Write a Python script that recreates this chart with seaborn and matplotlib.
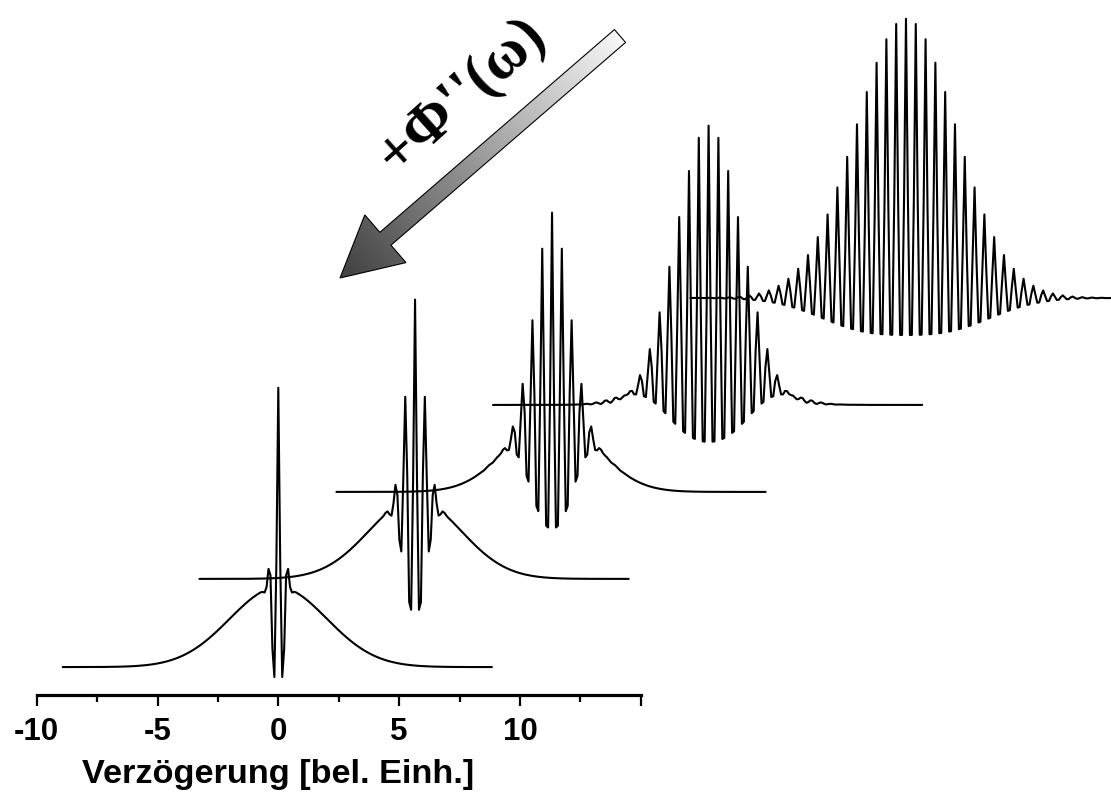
import numpy as np
import pandas as pd
import matplotlib
matplotlib.use("Agg")
import matplotlib.pyplot as plt
from matplotlib.patches import Polygon
import seaborn as sns

# Interferometric autocorrelation traces of Gaussian pulses with increasing chirp.
# Position of each trace centre on the delay axis and the shift of its zero level.
trace_center = [0.0, 5.66, 11.33, 17.81, 25.98]
trace_offset = [-0.30, 1.91, 4.09, 6.27, 8.95]
# Gaussian pulse width (in fringe periods) and linear chirp parameter of each trace
pulse_width = [7.0, 6.6, 6.1, 5.8, 6.7]
chirp = [20.0, 9.0, 4.0, 1.5, 0.0]
fringe_period = 0.4056
samples_per_fringe = 5
delay_range = [-9.0, 8.85]

tick_major = [-10, -5, 0, 5, 10, 15]
tick_labels = ["-10", "-5", "0", "5", "10", ""]
tick_minor = [-7.5, -2.5, 2.5, 7.5, 12.5]
x_label = "Verzögerung [bel. Einh.]"
arrow_label = "+\u03A6''(\u03C9)"


def autocorrelation(n, s, a):
    """Normalised interferometric autocorrelation (background 1, peak 8)."""
    r2 = (n / s) ** 2
    return (1.0 + 2.0 * np.exp(-r2)
            + 4.0 * np.exp(-(a * a + 3.0) / 4.0 * r2) * np.cos(a / 2.0 * r2) * np.cos(2 * np.pi * n)
            + np.exp(-(1.0 + a * a) * r2) * np.cos(4 * np.pi * n))


k0 = int(np.ceil(delay_range[0] / fringe_period * samples_per_fringe))
k1 = int(np.floor(delay_range[1] / fringe_period * samples_per_fringe))
n = np.arange(k0, k1 + 1) / samples_per_fringe

frames = []
for i, (c, off, s, a) in enumerate(zip(trace_center, trace_offset, pulse_width, chirp)):
    frames.append(pd.DataFrame({
        "trace": i,
        "delay": c + n * fringe_period,
        "signal": off + autocorrelation(n, s, a),
    }))
df = pd.concat(frames, ignore_index=True)

sns.set_theme(style="white")
plt.rcParams["font.family"] = ["Liberation Sans", "DejaVu Sans"]
plt.rcParams["axes.unicode_minus"] = False

W, H = 1111, 798
fig = plt.figure(figsize=(W / 100, H / 100), dpi=100)
fig.patch.set_facecolor("white")

axis_px = 695          # vertical pixel position of the delay axis
px_per_unit = 24.16
zero_px = 278.3
ax = fig.add_axes([0, (H - axis_px) / H, 1, axis_px / H])
ax.set_facecolor("none")

sns.lineplot(data=df, x="delay", y="signal", units="trace", estimator=None,
             sort=False, color="black", linewidth=1.5, legend=False, ax=ax)

ax.set_xlim(-zero_px / px_per_unit, (W - zero_px) / px_per_unit)
ax.set_ylim(0, axis_px / 39.9)

for side in ["left", "right", "top"]:
    ax.spines[side].set_visible(False)
ax.spines["bottom"].set_bounds(tick_major[0], tick_major[-1])
ax.spines["bottom"].set_linewidth(2.3)
ax.spines["bottom"].set_color("black")

ax.set_yticks([])
ax.set_ylabel("")
ax.set_xticks(tick_major)
ax.set_xticklabels(tick_labels)
ax.set_xticks(tick_minor, minor=True)
ax.tick_params(axis="x", which="major", direction="out", length=7.9, width=1.6,
               pad=7.9, labelsize=22.5, color="black", labelcolor="black", bottom=True)
ax.tick_params(axis="x", which="minor", direction="out", length=4.8, width=1.6,
               color="black", bottom=True)
for lab in ax.get_xticklabels():
    lab.set_fontweight("bold")

ax.set_xlabel(x_label, fontsize=24.7, fontweight="bold", color="black")
ax.xaxis.set_label_coords((0 - ax.get_xlim()[0]) / (ax.get_xlim()[1] - ax.get_xlim()[0]),
                          -(783 - axis_px) / axis_px)
ax.xaxis.label.set_va("baseline")

# Overlay in pixel coordinates for the shaded arrow and its label
ov = fig.add_axes([0, 0, 1, 1], zorder=5)
ov.set_xlim(0, W)
ov.set_ylim(H, 0)
ov.axis("off")
ov.patch.set_alpha(0)

tail = np.array([620.0, 36.0])
tip = np.array([340.0, 278.0])
vec = tip - tail
L = np.hypot(*vec)
u = vec / L
p = np.array([-u[1], u[0]])
shaft_hw, head_hw, head_len = 8.5, 31.5, 60.0
base = tip - u * head_len
pts = np.array([tail + p * shaft_hw, base + p * shaft_hw, base + p * head_hw, tip,
                base - p * head_hw, base - p * shaft_hw, tail - p * shaft_hw])
poly = Polygon(pts, closed=True, facecolor="none", edgecolor="black", linewidth=0.8, zorder=3)
ov.add_patch(poly)

x0, x1 = pts[:, 0].min() - 2, pts[:, 0].max() + 2
y0, y1 = pts[:, 1].min() - 2, pts[:, 1].max() + 2
gx, gy = np.meshgrid(np.linspace(x0, x1, 400), np.linspace(y0, y1, 400))
t = ((gx - tail[0]) * u[0] + (gy - tail[1]) * u[1]) / L
shade = np.clip(0.97 - 0.72 * t, 0, 1)
im = ov.imshow(shade, cmap="gray", vmin=0, vmax=1, extent=(x0, x1, y1, y0),
               origin="upper", interpolation="bilinear", zorder=2, aspect="auto")
im.set_clip_path(poly)

ov.text(462, 96, arrow_label, rotation=42, rotation_mode="anchor", ha="center",
        va="center", fontsize=44, fontweight="bold",
        family=["Liberation Serif", "DejaVu Serif"], color="black")

fig.savefig("out.png", dpi=100, facecolor="white")
